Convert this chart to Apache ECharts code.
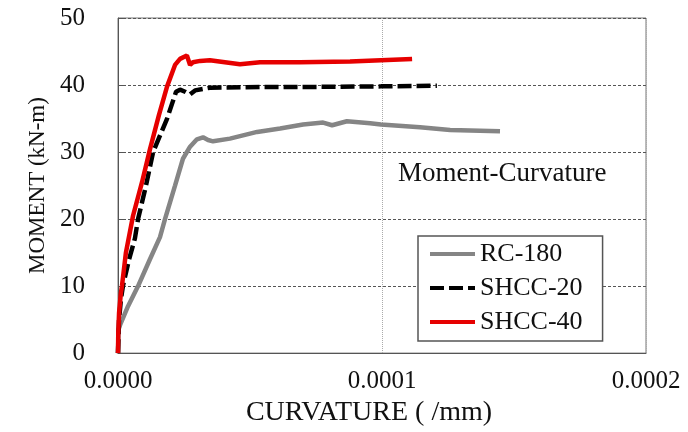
<!DOCTYPE html>
<html>
<head>
<meta charset="utf-8">
<script src="https://cdn.jsdelivr.net/npm/echarts@6/dist/echarts.min.js"></script>
<style>
html,body{margin:0;padding:0;background:#fff;}
#chart{width:688px;height:432px;}
</style>
</head>
<body>
<div id="chart"></div>
<script>
// Curvature values are given in units of 1e-6 /mm
var seriesNames = ['RC-180', 'SHCC-20', 'SHCC-40'];
var rc180Curv = [0, 0.2, 0.8, 3.8, 7.6, 12.1, 15.9, 17.8, 21.6, 24.6, 27.3, 29.9, 32.2, 34.1, 36, 42.4, 52.7, 61.4, 70.1, 77.7, 81.1, 86.7, 95.5, 99.6, 114.4, 125.8, 144.7];
var rc180Moment = [0, 3.5, 4.2, 7, 10, 14, 17.3, 20, 25, 29, 30.8, 31.9, 32.2, 31.8, 31.6, 32.0, 33.0, 33.5, 34.1, 34.4, 34.0, 34.6, 34.3, 34.1, 33.7, 33.3, 33.1];
var shcc20Curv = [0, 0.4, 1.1, 1.9, 4.2, 6.4, 7.6, 10.6, 13.3, 18.6, 22, 23.5, 25.4, 27.3, 29.2, 34.8, 53.8, 68.9, 99.6, 120.8];
var shcc20Moment = [0, 5, 8, 10.1, 14, 17.1, 20, 25, 30, 35, 39, 39.3, 39.0, 38.6, 39.2, 39.6, 39.7, 39.7, 39.8, 39.9];
var shcc40Curv = [0, 0.1, 0.4, 1.1, 1.5, 3.0, 5.7, 9.1, 12.1, 15.5, 18.6, 21.6, 23.5, 26.1, 27.3, 28.4, 31.1, 34.8, 40.5, 46.2, 53.8, 68.9, 87.9, 99.6, 111.4];
var shcc40Moment = [0, 3, 6, 9, 10, 15, 20.5, 25.5, 30.4, 35.5, 39.8, 43, 43.9, 44.4, 43.0, 43.4, 43.6, 43.7, 43.4, 43.1, 43.4, 43.4, 43.5, 43.7, 43.9];
var xTicks = [0, 0.0001, 0.0002];
var yTicks = [0, 10, 20, 30, 40, 50];
var chartTitle = 'Moment-Curvature';
var xName = 'CURVATURE ( /mm)';
var yName = 'MOMENT (kN-m)';

function pairs(xs, ys) {
  return xs.map(function (x, i) { return [x * 1e-6, ys[i]]; });
}

var FONT = 'Liberation Serif';
var NOFILL = 'rgba(0,0,0,0)';
var chart = echarts.init(document.getElementById('chart'), null, {renderer: 'canvas'});
chart.setOption({
  animation: false,
  backgroundColor: '#fff',
  title: {
    text: chartTitle,
    left: 393, top: 155,
    textStyle: {fontFamily: FONT, fontSize: 27, fontWeight: 'normal', color: '#111'}
  },
  legend: {
    orient: 'vertical',
    left: 418, top: 236,
    data: seriesNames,
    itemWidth: 45, itemHeight: 14, itemGap: 4,
    padding: [3, 20, 4, 10],
    borderColor: '#555', borderWidth: 1.5,
    backgroundColor: '#fff',
    itemStyle: {opacity: 0},
    lineStyle: {width: 4},
    textStyle: {fontFamily: FONT, fontSize: 26, color: '#111', lineHeight: 30}
  },
  grid: {left: 118, right: 42, top: 18, bottom: 77, show: true, borderColor: '#777', borderWidth: 1},
  xAxis: {
    type: 'value', min: xTicks[0], max: xTicks[xTicks.length - 1], interval: xTicks[1] - xTicks[0],
    name: xName, nameLocation: 'middle', nameGap: 41,
    nameTextStyle: {fontFamily: FONT, fontSize: 28, color: '#111', padding: [0, 26, 0, 0]},
    axisLine: {show: true, lineStyle: {color: '#555', width: 1}},
    axisTick: {show: false},
    axisLabel: {fontFamily: FONT, fontSize: 25, color: '#111', margin: 16,
      formatter: function (v) { return v.toFixed(4); }},
    splitLine: {show: true, lineStyle: {color: '#aaa', type: 'dotted', width: 1}}
  },
  yAxis: {
    type: 'value', min: yTicks[0], max: yTicks[yTicks.length - 1], interval: yTicks[1] - yTicks[0],
    name: yName, nameLocation: 'middle', nameGap: 64, nameRotate: 90,
    nameTextStyle: {fontFamily: FONT, fontSize: 23, color: '#111'},
    axisLine: {show: true, lineStyle: {color: '#555', width: 1}},
    axisTick: {show: true, inside: true, length: 6, lineStyle: {color: '#555'}},
    axisLabel: {fontFamily: FONT, fontSize: 25, color: '#111', margin: 33},
    splitLine: {show: true, lineStyle: {color: '#555', type: [3, 2], width: 1}}
  },
  series: [
    {name: seriesNames[0], type: 'line', data: pairs(rc180Curv, rc180Moment), showSymbol: false, symbol: 'none',
      lineStyle: {color: '#858585', width: 4.5}, itemStyle: {color: NOFILL}},
    {name: seriesNames[1], type: 'line', data: pairs(shcc20Curv, shcc20Moment), showSymbol: false, symbol: 'none',
      lineStyle: {color: '#000', width: 4.5, type: [14, 5]}, itemStyle: {color: NOFILL}},
    {name: seriesNames[2], type: 'line', data: pairs(shcc40Curv, shcc40Moment), showSymbol: false, symbol: 'none',
      lineStyle: {color: '#e60000', width: 4.5}, itemStyle: {color: NOFILL}}
  ]
});
</script>
</body>
</html>
